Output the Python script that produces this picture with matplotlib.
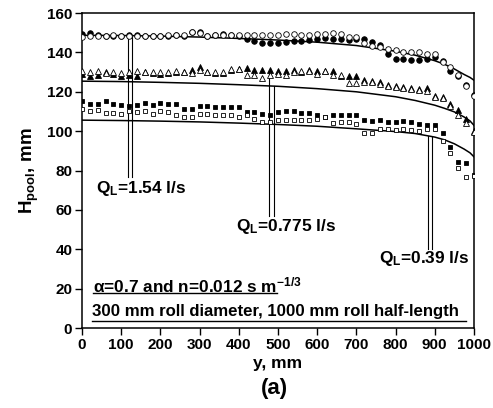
import matplotlib
matplotlib.use("Agg")
import matplotlib.pyplot as plt
import numpy as np

plt.rcParams['font.family'] = ['Liberation Sans', 'DejaVu Sans']
plt.rcParams['font.weight'] = 'bold'
plt.rcParams['mathtext.fontset'] = 'custom'
plt.rcParams['mathtext.rm'] = 'Liberation Sans:bold'
plt.rcParams['mathtext.it'] = 'Liberation Sans:bold'
plt.rcParams['mathtext.bf'] = 'Liberation Sans:bold'

# measured positions along roll half-length, mm
y_pos = list(range(0, 1001, 20))

# Q_L = 1.54 l/s
circ_fill = [149.5, 150, 149, 148.5, 148.5, 148.5, 149, 149, 148.5, 148.5,
             148.5, 148.5, 149, 148.5, 150.5, 150.5, 148.5, 149, 149.5, 149,
             148.5, 147, 146, 145, 145, 145, 145.5, 146, 146, 146.5,
             147, 147.5, 147, 147, 146.5, 147, 147, 145.5, 144, 139.4,
             136.9, 136.9, 136, 136, 136.5, 137.7, 135.5, 130.5, 128, 123.7, 118.5]
circ_open = [148, 148.5, 148.5, 148.5, 149, 148.5, 148.5, 148.5, 148.5, 148.5,
             148.5, 149, 149, 149, 150.5, 150, 148.5, 149, 149, 149,
             149, 149, 149, 149, 149, 149, 149.5, 149.5, 149, 149,
             149.5, 149.5, 150, 149.5, 147.7, 147.7, 145, 143.3, 142.8, 141.6,
             141.1, 140.3, 140.3, 140, 139.4, 139, 135.2, 132.6, 128.4, 123, 118]

# Q_L = 0.775 l/s
tri_fill = [129, 128, 128.5, 130, 129, 128, 128.5, 128, 130, 129.5,
            129, 129.5, 130, 130, 131, 132.5, 130, 129.5, 129.5, 131,
            131.5, 132, 131, 131, 131, 130.5, 130.5, 131, 130, 131,
            130.5, 130.5, 130.5, 128, 128, 128, 126, 125.5, 125, 123.5,
            123, 122.5, 122, 121.5, 122, 118, 117.5, 114, 111, 106, 100]
tri_open = [130.5, 130, 130.5, 129.5, 130, 129.5, 130, 130.5, 130, 130,
            130, 130, 130.5, 130, 129.5, 131, 130, 130, 130, 131.5,
            131.5, 128.5, 128.5, 127, 128.5, 129, 128.5, 130, 130.5, 130.5,
            129, 130.5, 128.5, 128.5, 124.4, 124.4, 125, 125, 124, 123,
            122.5, 122, 121.5, 121, 120.5, 117.5, 117, 113, 108, 104, 99.5]

# Q_L = 0.39 l/s
sq_fill = [115.4, 113.7, 113.7, 115.4, 114, 113.3, 113, 113.3, 114.4, 113.3,
           114.4, 114, 114, 111.5, 111.5, 113, 112.6, 112.4, 112.4, 112.4,
           112.4, 109.8, 109.8, 108.6, 108.1, 109.8, 110.3, 110.3, 109.3, 109.3,
           108.1, 107.3, 108.1, 108, 108, 108.4, 105.6, 105, 105.5, 104.6,
           104.6, 105, 104.5, 103.7, 102.9, 103, 99, 92, 84.4, 83.6, 77.5]
sq_open = [111.5, 110.3, 110.7, 109, 109, 108.7, 110, 109.6, 110.5, 108.7,
           110, 109.5, 108.3, 107.4, 107.4, 108.6, 108.8, 108.1, 108.1, 108.1,
           107.3, 108.1, 106.4, 104.7, 104.7, 105.9, 105.5, 105.5, 105.5, 105.9,
           106.4, 107.3, 104.3, 104.6, 104.6, 103.5, 99, 99, 101, 101,
           100.5, 101, 100.5, 100, 101.3, 101.3, 95, 89, 81.4, 76.8, 77]

# model curves
fit_y = [0, 100, 200, 300, 400, 500, 600, 700, 800, 850, 900, 925, 950, 975, 990, 1000]
fit_hi = [148.7, 148.6, 148.3, 147.8, 147.1, 146.3, 145.2, 143.5, 140.6, 138.6, 135.8, 134.0, 131.6, 128.8, 127.3, 125.9]
fit_mid = [125.4, 125.2, 124.8, 124.3, 123.6, 122.8, 121.6, 120.0, 117.5, 115.6, 113.2, 111.6, 109.8, 107.2, 105.2, 103.0]
fit_lo = [105.6, 105.4, 105.1, 104.7, 104.1, 103.4, 102.5, 101.2, 99.8, 98.8, 97.0, 95.6, 93.6, 90.9, 89.0, 87.0]

fig = plt.figure(figsize=(4.93, 4.08), dpi=100)
ax = fig.add_axes([0.1663, 0.196, 0.795, 0.772])

for h in (fit_hi, fit_mid, fit_lo):
    ax.plot(fit_y, h, color='black', lw=1.1, zorder=2)

ms = 4.0
ax.plot(y_pos, circ_fill, 'o', mfc='black', mec='black', ms=ms, mew=0.6, zorder=3)
ax.plot(y_pos, circ_open, 'o', mfc='white', mec='black', ms=ms, mew=0.6, zorder=3)
ax.plot(y_pos, tri_fill, '^', mfc='black', mec='black', ms=ms, mew=0.6, zorder=3)
ax.plot(y_pos, tri_open, '^', mfc='white', mec='black', ms=ms, mew=0.6, zorder=3)
ax.plot(y_pos, sq_fill, 's', mfc='black', mec='black', ms=ms - 0.5, mew=0.6, zorder=3)
ax.plot(y_pos, sq_open, 's', mfc='white', mec='black', ms=ms - 0.5, mew=0.6, zorder=3)

# pointer lines to the labels
ax.plot([118, 118], [148.7, 76.5], color='black', lw=0.8)
ax.plot([128, 128], [148.7, 76.5], color='black', lw=0.8)
ax.plot([478, 478], [129.5, 57], color='black', lw=0.8)
ax.plot([490, 490], [123.2, 57], color='black', lw=0.8)
ax.plot([882, 882], [97.5, 40], color='black', lw=0.8)
ax.plot([894, 894], [97, 40], color='black', lw=0.8)

fs = 12.4
ax.text(37, 71, 'Q$_\\mathregular{L}$=1.54 l/s', fontsize=fs, va='center', fontweight='bold')
ax.text(393, 51.5, 'Q$_\\mathregular{L}$=0.775 l/s', fontsize=fs, va='center', fontweight='bold')
ax.text(758, 35.5, 'Q$_\\mathregular{L}$=0.39 l/s', fontsize=fs, va='center', fontweight='bold')

ax.text(28, 21.5, 'α=0.7 and n=0.012 s m$^{-1/3}$', fontsize=fs, va='center', fontweight='bold')
ax.plot([28, 497], [17.8, 17.8], color='black', lw=1.0)
ax.text(25, 8.3, '300 mm roll diameter, 1000 mm roll half-length', fontsize=12.1, va='center', fontweight='bold')
ax.plot([25, 980], [3.7, 3.7], color='black', lw=1.0)

ax.set_xlim(0, 1000)
ax.set_ylim(0, 160)
ax.set_xticks(range(0, 1001, 100))
ax.set_yticks(range(0, 161, 20))
ax.tick_params(direction='out', length=5, width=1.0, labelsize=11, pad=2)
for lab in ax.get_xticklabels() + ax.get_yticklabels():
    lab.set_fontweight('bold')
for s in ax.spines.values():
    s.set_linewidth(1.1)

ax.set_xlabel('y, mm', fontsize=12.5, fontweight='bold', labelpad=3)
ax.set_ylabel('H$_\\mathregular{pool}$, mm', fontsize=13.5, fontweight='bold', labelpad=4)
fig.text(0.557, 0.049, '(a)', fontsize=16, fontweight='bold', ha='center', va='center')

fig.savefig('out.png', dpi=100)
